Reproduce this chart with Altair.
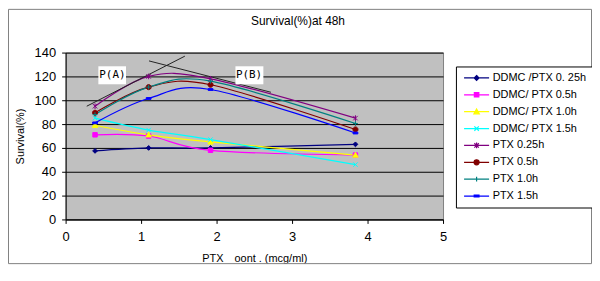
import altair as alt
import pandas as pd

# ---------------- data ----------------
x_conc = [0.39, 1.10, 1.92, 3.84]
series_names = [
    "DDMC /PTX 0. 25h",
    "DDMC/ PTX 0.5h",
    "DDMC/ PTX 1.0h",
    "DDMC/ PTX 1.5h",
    "PTX 0.25h",
    "PTX 0.5h",
    "PTX 1.0h",
    "PTX 1.5h",
]
ddmc_025 = [57.5, 60, 60, 63]
ddmc_05 = [71, 70, 58, 54]
ddmc_10 = [79, 71, 65, 54]
ddmc_15 = [85, 75, 67, 46]
ptx_025 = [95, 120, 118, 85]
ptx_05 = [89.5, 111, 113, 75.5]
ptx_10 = [88, 111, 116, 80.5]
ptx_15 = [81, 101.5, 109, 72.5]
series_values = [ddmc_025, ddmc_05, ddmc_10, ddmc_15, ptx_025, ptx_05, ptx_10, ptx_15]

y_ticks = [0, 20, 40, 60, 80, 100, 120, 140]
x_ticks = [0, 1, 2, 3, 4, 5]

# annotation tangent lines and labels (data coordinates)
ann_x = [0.28, 1.105]
ann_y = [95, 133]
ann_x2 = [1.58, 2.72]
ann_y2 = [137, 106.7]
lab_text = ["P(A)", "P(B)"]
lab_x = [0.62, 2.43]
lab_y = [121, 121]
box_x = [0.434, 2.25]
box_x2 = [0.80, 2.62]
box_y = [113.4, 113.4]
box_y2 = [128.5, 128.5]

title_text = "Survival(%)at 48h"
x_title = "PTX\u3000oont . (mcg/ml)"
y_title = "Survival(%)"

# ---------------- styles ----------------
series_colors = ["#000080", "#FF00FF", "#FFFF00", "#00FFFF",
                 "#800080", "#800000", "#008080", "#0000FF"]


def diamond(c=0.0, s=0.8):
    return f"M{c},{-s}L{c+s},0L{c},{s}L{c-s},0Z"


def square(c=0.0, s=0.75):
    return f"M{c-s},{-s}H{c+s}V{s}H{c-s}Z"


def triangle(c=0.0, s=0.9):
    return f"M{c},{-s}L{c+s},{s*0.8}H{c-s}Z"


def xmark(c=0.0, s=0.75):
    return f"M{c-s},{-s}L{c+s},{s}M{c-s},{s}L{c+s},{-s}"


def star(c=0.0, s=0.75):
    return f"M{c-s},{-s}L{c+s},{s}M{c-s},{s}L{c+s},{-s}M{c},{-s-0.2}V{s+0.2}"


def circle(c=0.0, s=0.85):
    return f"M{c+s},0A{s},{s},0,1,1,{c-s},0A{s},{s},0,1,1,{c+s},0Z"


def plus(c=0.0, s=0.8):
    return f"M{c-s},0H{c+s}M{c},{-s}V{s}"


def dash(c=0.0, s=0.8):
    return f"M{c-s},-0.3H{c+s}V0.3H{c-s}Z"


marker_fns = [diamond, square, triangle, xmark, star, circle, plus, dash]
marker_paths = [f() for f in marker_fns]
legend_paths = ["M-1.1,0H7.3" + f(3.1) for f in marker_fns]

FONT = "Liberation Sans"

# ---------------- table ----------------
rows = []
for name, vals in zip(series_names, series_values):
    for xv, yv in zip(x_conc, vals):
        rows.append({"series": name, "conc": xv, "surv": yv})
df = pd.DataFrame(rows)

ann_df = pd.DataFrame({"x": ann_x, "y": ann_y, "x2": ann_x2, "y2": ann_y2})
lab_df = pd.DataFrame({"t": lab_text, "x": lab_x, "y": lab_y,
                       "bx": box_x, "bx2": box_x2, "by": box_y, "by2": box_y2})

xs = alt.Scale(domain=[0, 5], nice=False)
ys = alt.Scale(domain=[0, 140], nice=False)

x_axis = alt.Axis(
    values=x_ticks, format="d", title=x_title, grid=False, tickSize=4, labelPadding=7,
    labelOverlap=False, labelFlush=False, labelBound=False,
    titleY=39, titleBaseline="middle")
y_axis = alt.Axis(
    values=y_ticks, format="d", title=y_title, grid=True, tickSize=4, labelPadding=6,
    labelOverlap=False, labelBound=False, labelFlush=False,
    titleX=-45, titleY=84, titleAngle=270, titleAlign="center",
    titleBaseline="middle")


def X(field):
    return alt.X(field, type="quantitative", scale=xs, axis=x_axis)


def Y(field):
    return alt.Y(field, type="quantitative", scale=ys, axis=y_axis)


base = alt.Chart(df)

line_layers = []
point_layers = []
for name, col, mpath in zip(series_names, series_colors, marker_paths):
    sub = base.transform_filter(alt.datum.series == name)
    line_layers.append(
        sub.mark_line(interpolate="cardinal", strokeWidth=1.2, color=col).encode(
            x=X("conc"), y=Y("surv"))
    )
    point_layers.append(
        sub.mark_point(filled=True, size=36, strokeWidth=1, opacity=1,
                       shape=mpath, fill=col, stroke=col).encode(
            x=X("conc"), y=Y("surv"))
    )

leg = alt.Legend(
    title=None, orient="none", legendX=393, legendY=14,
    strokeColor="black", fillColor="white", padding=6, cornerRadius=0,
    labelFont=FONT, labelFontSize=11, labelColor="black",
    symbolSize=36, symbolStrokeWidth=1.2, labelOffset=20, rowPadding=5,
    symbolOpacity=1,
)

cs = alt.Scale(domain=series_names, range=series_colors)
legend_layer = base.transform_filter("false").mark_point(filled=True, opacity=1).encode(
    x=X("conc"), y=Y("surv"),
    color=alt.Color("series:N", scale=cs, legend=leg, sort=series_names),
    stroke=alt.Stroke("series:N", scale=cs, legend=leg, sort=series_names),
    shape=alt.Shape("series:N", scale=alt.Scale(domain=series_names, range=legend_paths),
                    legend=leg, sort=series_names),
)

rules = alt.Chart(ann_df).mark_rule(color="#222222", strokeWidth=1).encode(
    x=X("x"), y=Y("y"), x2="x2:Q", y2="y2:Q")

boxes = alt.Chart(lab_df).mark_rect(fill="white").encode(
    x=X("bx"), x2="bx2:Q", y=Y("by"), y2="by2:Q")

labels = alt.Chart(lab_df).mark_text(
    font="DejaVu Sans Mono", fontSize=11, color="black",
    align="center", baseline="middle").encode(
    x=X("x"), y=Y("y"), text="t:N")

one = alt.Chart(pd.DataFrame({"a": [0]}))
frame = one.mark_rect(fillOpacity=0, stroke="#808080", strokeWidth=1).encode(
    x=alt.value(-57.5), x2=alt.value(529.5), y=alt.value(-43.5), y2=alt.value(212.5))

title = one.mark_text(font=FONT, fontSize=12, color="black", align="center",
                      baseline="middle", text=title_text).encode(
    x=alt.value(234), y=alt.value(-32))

chart = alt.layer(*line_layers, frame, title, rules, *point_layers, boxes, labels,
                  legend_layer).properties(
    width=380, height=168,
    autosize=alt.AutoSizeParams(type="none"),
    padding={"left": 58, "top": 44, "right": 150, "bottom": 45},
).configure_view(
    fill="#C0C0C0", stroke="#808080", strokeWidth=1
).configure_axis(
    labelFont=FONT, labelFontSize=13, labelColor="black",
    titleFont=FONT, titleFontSize=11, titleColor="black", titleFontWeight="normal",
    domainColor="black", tickColor="black", gridColor="black", gridWidth=1,
    gridOpacity=1,
)

chart.save("out.html", embed_options={"renderer": "svg", "actions": False})
